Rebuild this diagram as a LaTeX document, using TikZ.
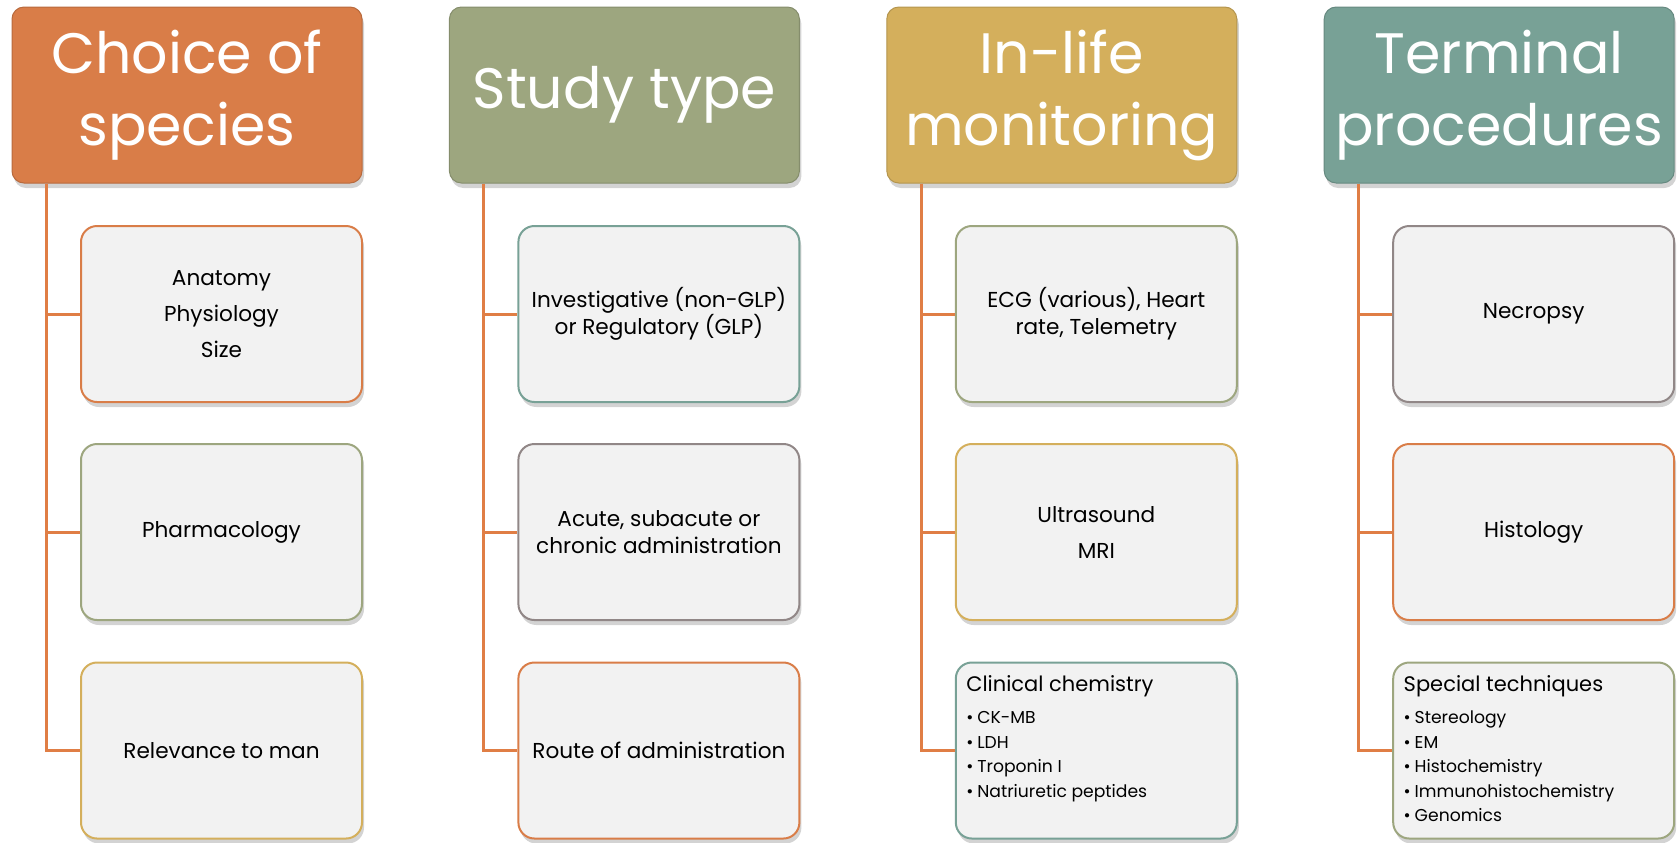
\documentclass[tikz,border=0pt]{standalone}
\usepackage{fontspec}
\setmainfont{Poppins}
\usetikzlibrary{positioning,shadows}

\definecolor{spOrange}{HTML}{D97D48}
\definecolor{spOlive}{HTML}{9DA67F}
\definecolor{spGold}{HTML}{D4AF5C}
\definecolor{spTeal}{HTML}{78A196}
\definecolor{spGray}{HTML}{918787}
\definecolor{spLine}{HTML}{E07E45}
\definecolor{spFill}{HTML}{F2F2F2}

\newcommand{\bul}[1]{\makebox[5.5pt][l]{\textbullet}#1\par}

\begin{document}
\begin{tikzpicture}[on grid,
    headbox/.style={rectangle, rounded corners=6pt, minimum width=175pt, minimum height=88pt,
        fill=#1, draw=#1!85!black, line width=.5pt, text=white, align=center,
        font=\fontsize{28.5}{36}\selectfont,
        drop shadow={shadow xshift=1pt, shadow yshift=-2.5pt, opacity=.35}},
    leafbox/.style={rectangle, rounded corners=8pt, minimum width=140.5pt, minimum height=88pt,
        fill=spFill, draw=#1, line width=1pt, align=center,
        font=\fontsize{10.8}{13.5}\selectfont,
        drop shadow={shadow xshift=1pt, shadow yshift=-2.5pt, opacity=.35}},
    branch/.style={draw=spLine, line width=1.5pt}]
    \useasboundingbox (0,0) rectangle (839.5pt,-421pt);

    % column headers
    \node[headbox=spOrange] (species) at (93.5pt,-47.5pt) {Choice of\\species};
    \node[headbox=spOlive] (study) [right=218.7pt of species] {\raisebox{-2.5pt}{Study type}};
    \node[headbox=spGold] (inlife) [right=218.7pt of study] {In-life\\monitoring};
    \node[headbox=spTeal] (terminal) [right=218.7pt of inlife] {Terminal\\procedures};

    % choice of species
    \node[leafbox=spOrange] (anatomy) [below right=109.5pt and 17.25pt of species] {Anatomy\\[4.5pt]Physiology\\[4.5pt]Size};
    \node[leafbox=spOlive] (pharma) [below=109pt of anatomy] {Pharmacology};
    \node[leafbox=spGold] (relevance) [below=109.25pt of pharma] {Relevance to man};

    % study type
    \node[leafbox=spTeal] (glp) [below right=109.5pt and 17.25pt of study] {Investigative (non-GLP)\\or Regulatory (GLP)};
    \node[leafbox=spGray] (admin) [below=109pt of glp] {Acute, subacute or\\chronic administration};
    \node[leafbox=spOrange] (route) [below=109.25pt of admin] {Route of administration};

    % in-life monitoring
    \node[leafbox=spOlive] (ecg) [below right=109.5pt and 17.25pt of inlife] {ECG (various), Heart\\rate, Telemetry};
    \node[leafbox=spGold] (imaging) [below=109pt of ecg] {Ultrasound\\[4.5pt]MRI};
    \node[leafbox=spTeal, align=left] (clinchem) [below=109.25pt of imaging] {\parbox[c][80pt][t]{130pt}{\vspace*{2.5pt}%
        \fontsize{10.5}{12}\selectfont Clinical chemistry\par\vspace{4pt}%
        \fontsize{8.6}{12.2}\selectfont
        \bul{CK-MB}\bul{LDH}\bul{Troponin I}\bul{Natriuretic peptides}}};

    % terminal procedures
    \node[leafbox=spGray] (necropsy) [below right=109.5pt and 17.25pt of terminal] {Necropsy};
    \node[leafbox=spOrange] (histology) [below=109pt of necropsy] {Histology};
    \node[leafbox=spOlive, align=left] (special) [below=109.25pt of histology] {\parbox[c][80pt][t]{130pt}{\vspace*{2.5pt}%
        \fontsize{10.5}{12}\selectfont Special techniques\par\vspace{4pt}%
        \fontsize{8.6}{12.2}\selectfont
        \bul{Stereology}\bul{EM}\bul{Histochemistry}\bul{Immunohistochemistry}\bul{Genomics}}};

    % connectors
    \coordinate (tS) at ([xshift=17.5pt]species.south west);
    \coordinate (tT) at ([xshift=17.5pt]study.south west);
    \coordinate (tI) at ([xshift=17.5pt]inlife.south west);
    \coordinate (tP) at ([xshift=17.5pt]terminal.south west);
    \draw[branch] (tS) |- (anatomy.west) (tS) |- (pharma.west) (tS) |- (relevance.west);
    \draw[branch] (tT) |- (glp.west) (tT) |- (admin.west) (tT) |- (route.west);
    \draw[branch] (tI) |- (ecg.west) (tI) |- (imaging.west) (tI) |- (clinchem.west);
    \draw[branch] (tP) |- (necropsy.west) (tP) |- (histology.west) (tP) |- (special.west);
\end{tikzpicture}
\end{document}
